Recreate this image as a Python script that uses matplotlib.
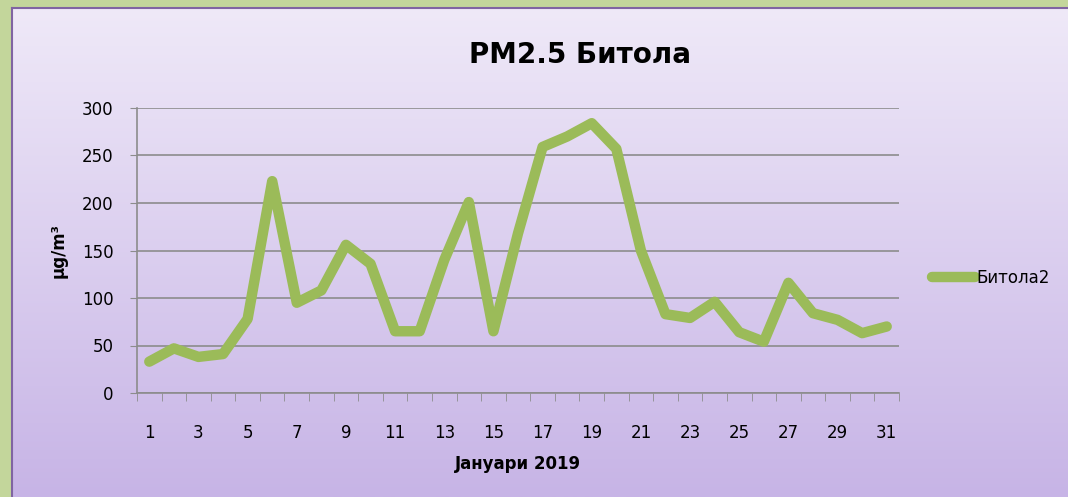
import numpy as np
import matplotlib

matplotlib.use("Agg")
import matplotlib.pyplot as plt
from matplotlib.colors import LinearSegmentedColormap
from matplotlib.lines import Line2D

days = list(range(1, 32))
bitola2 = [33, 47, 38, 41, 78, 223, 95, 108, 156, 136, 65, 65, 140, 201, 65,
           168, 259, 270, 284, 257, 150, 83, 79, 96, 64, 54, 116, 84, 77, 63, 70]
yticks = [0, 50, 100, 150, 200, 250, 300]
xtick_labels = [str(d) for d in days if d % 2 == 1]

LINE = "#9bbb59"
GRID = "#8c8c8c"
FRAME = "#c3d69b"

plt.rcParams.update({"font.family": "DejaVu Sans"})

fig = plt.figure(figsize=(10.68, 4.97), dpi=100, facecolor=FRAME)

# gradient background panel with thin purple border
bg = fig.add_axes([12 / 1068, 0, 1 - 12 / 1068, 1 - 8 / 497], zorder=0)
grad = LinearSegmentedColormap.from_list("bg", ["#efe9f8", "#c7b4e6"])
bg.imshow(np.linspace(0, 1, 256).reshape(-1, 1), aspect="auto", cmap=grad,
          extent=[0, 1, 0, 1], origin="upper")
bg.set_xticks([])
bg.set_yticks([])
for s in bg.spines.values():
    s.set_color("#8064a2")
    s.set_linewidth(1.5)
bg.spines["right"].set_visible(False)
bg.spines["bottom"].set_visible(False)

ax = fig.add_axes([137 / 1068, 1 - 393 / 497, (899 - 137) / 1068, (393 - 108) / 497], zorder=1)
ax.patch.set_alpha(0)
ax.plot(days, bitola2, color=LINE, lw=7.5, solid_joinstyle="round",
        solid_capstyle="round", label="Битола2", zorder=3)

ax.set_xlim(0.5, 31.5)
ax.set_ylim(0, 300)
ax.set_yticks(yticks)
ax.tick_params(axis="y", length=5, color=GRID, labelsize=12, pad=12)
ax.yaxis.grid(True, color=GRID, lw=1.2)
ax.set_axisbelow(True)

ax.set_xticks(np.arange(0.5, 32, 1), minor=True)
ax.set_xticks(range(1, 32, 2))
ax.set_xticklabels(xtick_labels)
ax.tick_params(axis="x", which="major", length=0, labelsize=12, pad=22)
ax.tick_params(axis="x", which="minor", length=6, color=GRID, direction="out")

for side in ("top", "right"):
    ax.spines[side].set_visible(False)
for side in ("left", "bottom"):
    ax.spines[side].set_color(GRID)
    ax.spines[side].set_linewidth(1.2)

ax.set_ylabel("μg/m³", fontsize=12, fontweight="bold", labelpad=10)
ax.set_xlabel("Јануари 2019", fontsize=12, fontweight="bold", labelpad=10)
fig.text(0.543, 0.889, "PM2.5 Битола", ha="center", va="center",
         fontsize=20, fontweight="bold")

handle = Line2D([], [], color=LINE, lw=7.5, solid_capstyle="round")
fig.legend([handle], ["Битола2"], loc="center left",
           bbox_to_anchor=(0.866, 1 - 278 / 497), frameon=False, fontsize=12,
           handlelength=2.6, handletextpad=0.1, borderaxespad=0)

fig.savefig("out.png", dpi=100, facecolor=fig.get_facecolor())
